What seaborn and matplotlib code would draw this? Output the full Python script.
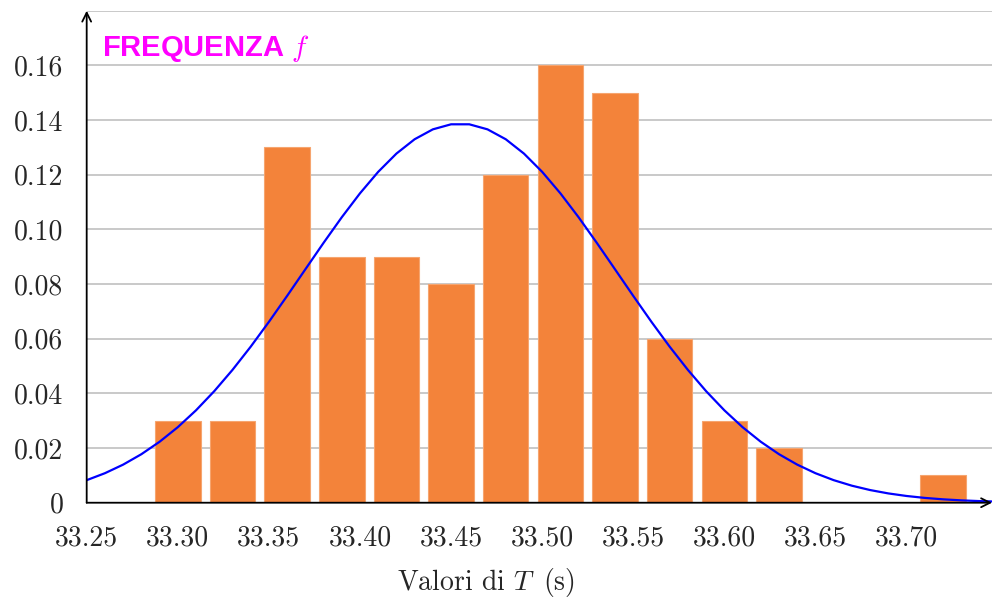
import numpy as np
import pandas as pd
import matplotlib
matplotlib.use("Agg")
import matplotlib.pyplot as plt
import seaborn as sns

# Dati: centri delle classi e frequenze relative
centri = [33.30, 33.33, 33.36, 33.39, 33.42, 33.45, 33.48, 33.51, 33.54, 33.57, 33.60, 33.63, 33.72]
frequenze = [0.03, 0.03, 0.13, 0.09, 0.09, 0.08, 0.12, 0.16, 0.15, 0.06, 0.03, 0.02, 0.01]

# Parametri della gaussiana (media, deviazione standard, larghezza classe)
media = 33.455
sigma = 0.0863
larghezza = 0.03

# Tick
x_ticks = [33.25, 33.30, 33.35, 33.40, 33.45, 33.50, 33.55, 33.60, 33.65, 33.70]
x_labels = ["33.25", "33.30", "33.35", "33.40", "33.45", "33.50", "33.55", "33.60", "33.65", "33.70"]
y_ticks = [0, 0.02, 0.04, 0.06, 0.08, 0.10, 0.12, 0.14, 0.16]
y_labels = ["0", "0.02", "0.04", "0.06", "0.08", "0.10", "0.12", "0.14", "0.16"]
griglia = [0.02, 0.04, 0.06, 0.08, 0.10, 0.12, 0.14, 0.16, 0.18]

sns.set_style("white")
plt.rcParams["font.family"] = ["serif"]
plt.rcParams["font.serif"] = ["cmr10", "DejaVu Serif"]
plt.rcParams["mathtext.fontset"] = "cm"
plt.rcParams["axes.formatter.use_mathtext"] = True

df = pd.DataFrame({"centro": centri, "f": frequenze})

# Curva normale scalata sulla larghezza della classe
curva_x = np.linspace(33.25, 33.75, 51)
curva_y = larghezza / (sigma * np.sqrt(2 * np.pi)) * np.exp(-(curva_x - media) ** 2 / (2 * sigma ** 2))
curva = pd.DataFrame({"x": curva_x, "y": curva_y})

fig = plt.figure(figsize=(9.93, 6.03), dpi=100)
ax = fig.add_axes([0.0873, 0.1663, 0.9117, 0.8159])

# Griglia orizzontale
ax.hlines(griglia, 33.25, 33.7469, colors="#c0c0c0", linewidth=1.2, zorder=0)

# Istogramma
sns.barplot(data=df, x="centro", y="f", native_scale=True, width=0.833,
            color="#f3833a", saturation=1, edgecolor="#f6a56f", linewidth=0.8,
            ax=ax, zorder=2)

# Gaussiana
sns.lineplot(data=curva, x="x", y="y", color="#0000ff", linewidth=1.6, ax=ax, zorder=3)

ax.set_xlim(33.25, 33.7469)
ax.set_ylim(0, 0.18)

for s in ax.spines.values():
    s.set_visible(False)

# Assi con frecce
ax.annotate("", xy=(1.0, 0), xytext=(0, 0), xycoords="axes fraction",
            arrowprops=dict(arrowstyle="->", lw=1.3, color="black",
                            shrinkA=0, shrinkB=0, mutation_scale=16), zorder=4)
ax.annotate("", xy=(0, 1.0), xytext=(0, 0), xycoords="axes fraction",
            arrowprops=dict(arrowstyle="->", lw=1.3, color="black",
                            shrinkA=0, shrinkB=0, mutation_scale=16), zorder=4)

ax.set_xticks(x_ticks)
ax.set_xticklabels(x_labels)
ax.set_xticks(np.arange(33.26, 33.745, 0.01), minor=True)
ax.set_yticks(y_ticks)
ax.set_yticklabels(y_labels)

ax.tick_params(axis="x", which="major", direction="inout", length=14, width=1.1,
               labelsize=20, pad=9, color="black")
ax.tick_params(axis="x", which="minor", direction="out", length=4.3, width=1.1, color="black")
ax.tick_params(axis="y", which="major", direction="inout", length=13.7, width=1.1,
               labelsize=20, pad=10, color="black")

ax.set_xlabel(r"Valori di $T\,$ (s)", fontsize=20)
ax.xaxis.set_label_coords(0.441, -0.128)
ax.set_ylabel("")

ax.text(33.2584, 0.1636, r"FREQUENZA $f$", color="#ff00ff", fontsize=21,
        fontweight="bold", family=["Liberation Sans", "DejaVu Sans"], va="baseline")

fig.savefig("out.png", dpi=100)
